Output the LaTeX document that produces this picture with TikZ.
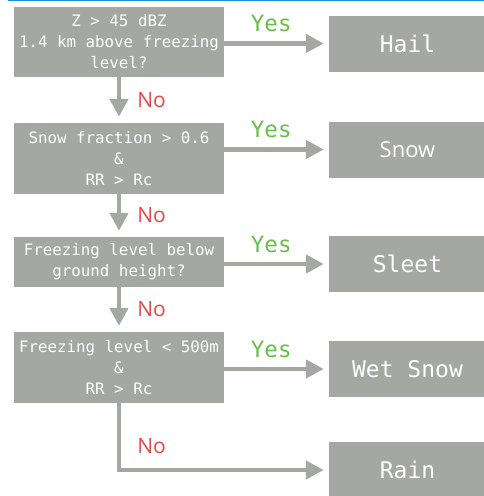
\documentclass[tikz,border=0pt]{standalone}
\usepackage{fontspec}
\setmonofont{DejaVu Sans Mono}
\newfontfamily\labelfont{Open Sans}
\usetikzlibrary{arrows.meta}
\usetikzlibrary{positioning}

\definecolor{boxgray}{RGB}{164,167,162}
\definecolor{yesgreen}{RGB}{104,190,72}
\definecolor{nored}{RGB}{230,72,72}
\definecolor{topblue}{RGB}{24,144,214}

\begin{document}
\begin{tikzpicture}[x=1pt,y=-1pt,>={Triangle[length=18pt,width=18pt]}]

\tikzset{question/.style={fill=boxgray,text=white,minimum width=210pt,
  align=center,inner sep=0pt,font=\ttfamily\fontsize{15.8}{21}\selectfont}}

\tikzset{result/.style={fill=boxgray,text=white,minimum width=157pt,
  minimum height=56pt,inner sep=0pt,font=\ttfamily\fontsize{23}{27}\selectfont}}

\tikzset{flow/.style={draw=boxgray,line width=4.5pt,->}}

\tikzset{yes/.style={text=yesgreen,inner sep=0pt,font=\ttfamily\fontsize{22.5}{26}\selectfont}}

\tikzset{no/.style={text=nored,inner sep=0pt,font=\labelfont\fontsize{21}{25}\selectfont}}

\useasboundingbox (0,0) rectangle (484,496);

%top rule
\draw[topblue,line width=1.2pt] (8,0.6)--(484,0.6);

%questions
\node[question,minimum height=70pt] (zhail) at (119,42) {Z > 45 dBZ\\1.4 km above freezing\\level?};
\node[question,minimum height=71pt] (snowfrac) at (119,158.5) {Snow fraction > 0.6\\\&\\RR > Rc};
\node[question,minimum height=50pt] (ground) at (119,262) {Freezing level below\\ground height?};
\node[question,minimum height=71pt] (fl500) at (119,367.5) {Freezing level < 500m\\\&\\RR > Rc};

%results
\node[result] (hail) at (407.5,43.5) {Hail};
\node[result,font=\labelfont\fontsize{22}{26}\selectfont] (snow) at (407.5,149.5) {Snow};
\node[result] (sleet) at (407.5,264) {Sleet};
\node[result] (wetsnow) at (407.5,369) {Wet Snow};
\node[result] (rain) at (407.5,470) {Rain};

%yes arrows
\draw[flow,shorten >=5pt] (zhail.east |- hail) -- node[yes,pos=0.45,above=9pt] {Yes} (hail.west);
\draw[flow,shorten >=5pt] (snowfrac.east |- snow) -- node[yes,pos=0.45,above=9pt] {Yes} (snow.west);
\draw[flow,shorten >=5pt] (ground.east |- sleet) -- node[yes,pos=0.45,above=9pt] {Yes} (sleet.west);
\draw[flow,shorten >=5pt] (fl500.east |- wetsnow) -- node[yes,pos=0.45,above=9pt] {Yes} (wetsnow.west);

%no arrows
\draw[flow,shorten >=6pt] (zhail.south) -- node[no,right=16pt] {No} (snowfrac.north);
\draw[flow,shorten >=6pt] (snowfrac.south) -- node[no,right=16pt] {No} (ground.north);
\draw[flow,shorten >=6pt] (ground.south) -- node[no,right=16pt] {No} (fl500.north);
\draw[flow,shorten >=5pt] (fl500.south) |- node[no,pos=0.32,right=16pt] {No} (rain.west);

\end{tikzpicture}
\end{document}
